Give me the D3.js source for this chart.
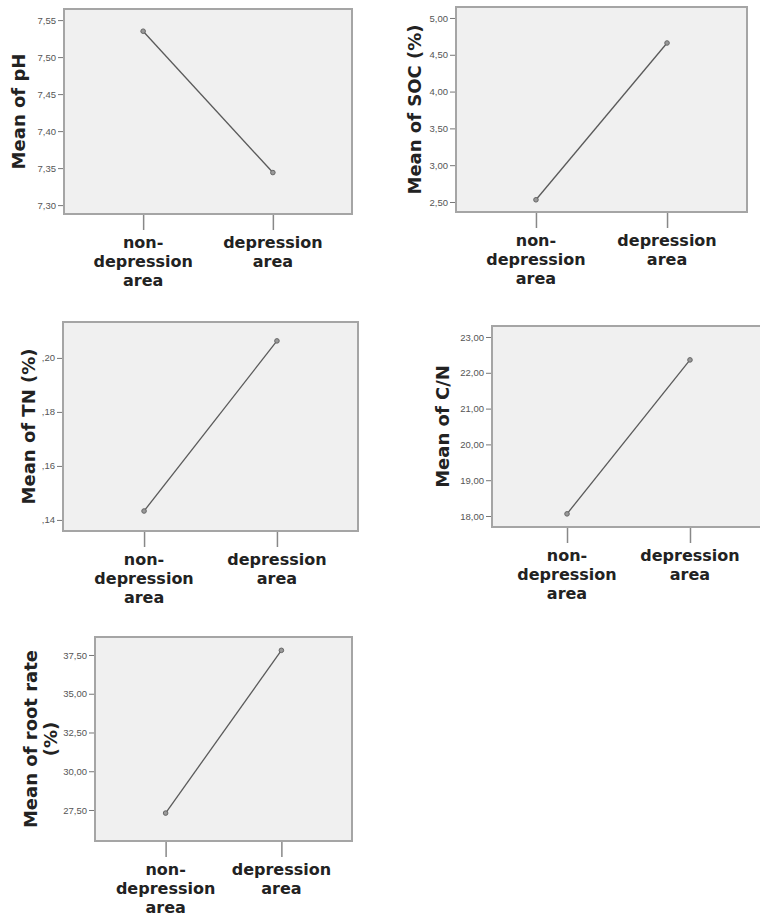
<!DOCTYPE html>
<html>
<head>
<meta charset="utf-8">
<style>
  body { margin: 0; background: #fff; }
  svg { display: block; }
  .tick-y text { font-family: "Liberation Sans Narrow", "Liberation Sans", Arial, sans-serif; font-size: 9.5px; fill: #555; }
  .ttl, .cat { font-family: "DejaVu Sans", Verdana, sans-serif; font-weight: bold; fill: #222; }
</style>
</head>
<body>
<div id="chart"></div>
<script src="https://d3js.org/d3.v7.min.js"></script>
<script>
// categories on every x axis
const categories = ['non-depression area', 'depression area'];
const categoryLines = [['non-', 'depression', 'area'], ['depression', 'area']];

// means
const phMeans = [7.535, 7.344];
const socMeans = [2.53, 4.66];
const tnMeans = [0.1433, 0.2063];
const cnMeans = [18.06, 22.36];
const rootMeans = [27.3, 37.8];

// y axis extents (data units)
const phDomain = [7.288, 7.565];
const socDomain = [2.364, 5.149];
const tnDomain = [0.1359, 0.2133];
const cnDomain = [17.693, 23.307];
const rootDomain = [25.5, 38.66];

// tick values and their labels
const phTicks = [7.30, 7.35, 7.40, 7.45, 7.50, 7.55];
const phTickLabels = ['7,30', '7,35', '7,40', '7,45', '7,50', '7,55'];
const socTicks = [2.5, 3.0, 3.5, 4.0, 4.5, 5.0];
const socTickLabels = ['2,50', '3,00', '3,50', '4,00', '4,50', '5,00'];
const tnTicks = [0.14, 0.16, 0.18, 0.20];
const tnTickLabels = [',14', ',16', ',18', ',20'];
const cnTicks = [18, 19, 20, 21, 22, 23];
const cnTickLabels = ['18,00', '19,00', '20,00', '21,00', '22,00', '23,00'];
const rootTicks = [27.5, 30, 32.5, 35, 37.5];
const rootTickLabels = ['27,50', '30,00', '32,50', '35,00', '37,50'];

const titles = [['Mean of pH'], ['Mean of SOC (%)'], ['Mean of TN (%)'], ['Mean of C/N'], ['Mean of root rate', '(%)']];

const panels = [
  { means: phMeans, domain: phDomain, ticks: phTicks, labels: phTickLabels, title: titles[0],
    box: { left: 64, right: 352, top: 9, bottom: 214 }, titleX: 19 },
  { means: socMeans, domain: socDomain, ticks: socTicks, labels: socTickLabels, title: titles[1],
    box: { left: 456, right: 747, top: 7, bottom: 212 }, titleX: 415 },
  { means: tnMeans, domain: tnDomain, ticks: tnTicks, labels: tnTickLabels, title: titles[2],
    box: { left: 63, right: 358, top: 322, bottom: 531 }, titleX: 29 },
  { means: cnMeans, domain: cnDomain, ticks: cnTicks, labels: cnTickLabels, title: titles[3],
    box: { left: 492, right: 765, top: 326, bottom: 527 }, titleX: 443 },
  { means: rootMeans, domain: rootDomain, ticks: rootTicks, labels: rootTickLabels, title: titles[4],
    box: { left: 95, right: 352, top: 637, bottom: 841 }, titleX: 31 }
];

const svg = d3.select('#chart')
  .append('svg')
  .attr('width', 760)
  .attr('height', 922);

panels.forEach(p => {
  const b = p.box;
  const g = svg.append('g');

  const x = d3.scalePoint()
    .domain(categories)
    .range([b.left, b.right])
    .padding(0.61);

  const y = d3.scaleLinear()
    .domain(p.domain)
    .range([b.bottom, b.top]);

  g.append('rect')
    .attr('x', b.left)
    .attr('y', b.top)
    .attr('width', b.right - b.left)
    .attr('height', b.bottom - b.top)
    .attr('fill', '#f0f0f0')
    .attr('stroke', '#a5a5a5')
    .attr('stroke-width', 2);

  // y axis
  const yAxis = g.append('g')
    .attr('class', 'tick-y')
    .attr('transform', `translate(${b.left - 1},0)`)
    .call(d3.axisLeft(y)
      .tickValues(p.ticks)
      .tickFormat((d, i) => p.labels[i])
      .tickSizeInner(5)
      .tickSizeOuter(0)
      .tickPadding(2));
  yAxis.select('.domain').remove();
  yAxis.selectAll('line').attr('stroke', '#777');

  // x axis: tick marks below the box, multi-line labels
  const xAxis = g.append('g')
    .attr('transform', `translate(0,${b.bottom + 1})`)
    .call(d3.axisBottom(x).tickSizeInner(15).tickSizeOuter(0).tickFormat(''));
  xAxis.select('.domain').remove();
  xAxis.selectAll('line').attr('stroke', '#888').attr('stroke-width', 1.5);

  categories.forEach((c, i) => {
    const t = g.append('text')
      .attr('class', 'cat')
      .attr('text-anchor', 'middle')
      .attr('font-size', 16)
      .attr('x', x(c))
      .attr('y', b.bottom + 34);
    categoryLines[i].forEach((line, j) => {
      t.append('tspan')
        .attr('x', x(c))
        .attr('dy', j === 0 ? 0 : 19)
        .text(line);
    });
  });

  // y title
  const cy = (b.top + b.bottom) / 2;
  const tt = g.append('text')
    .attr('class', 'ttl')
    .attr('font-size', 18)
    .attr('text-anchor', 'middle')
    .attr('transform', `translate(${p.titleX},${cy}) rotate(-90)`);
  p.title.forEach((line, j) => {
    tt.append('tspan')
      .attr('x', 0)
      .attr('dy', j === 0 ? '0.35em' : 20)
      .text(line);
  });

  // line and points
  const pts = categories.map((c, i) => ({ c, v: p.means[i] }));
  g.append('path')
    .datum(pts)
    .attr('fill', 'none')
    .attr('stroke', '#5a5a5a')
    .attr('stroke-width', 1.3)
    .attr('d', d3.line().x(d => x(d.c)).y(d => y(d.v)));

  g.selectAll('circle.pt')
    .data(pts)
    .enter()
    .append('circle')
    .attr('class', 'pt')
    .attr('cx', d => x(d.c))
    .attr('cy', d => y(d.v))
    .attr('r', 2.3)
    .attr('fill', '#999')
    .attr('stroke', '#666')
    .attr('stroke-width', 1);
});
</script>
</body>
</html>
